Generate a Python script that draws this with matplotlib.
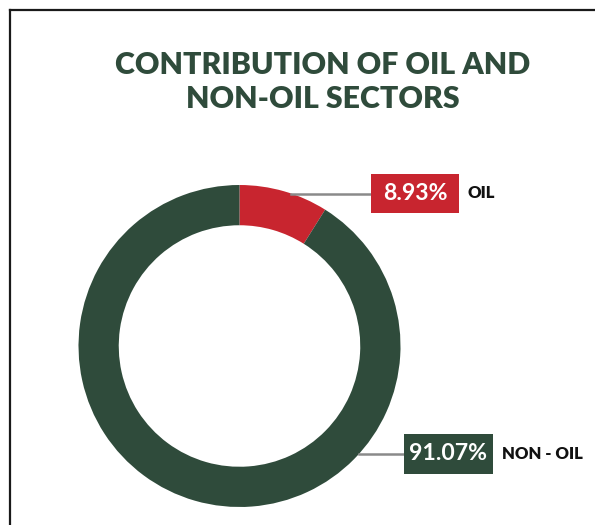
import numpy as np
import matplotlib.pyplot as plt
from matplotlib.patches import Rectangle
from matplotlib.lines import Line2D

# Sector shares (%)
sectors = ['OIL', 'NON - OIL']
shares = [8.93, 91.07]
colors = ['#c8252f', '#2f4b3b']
title = 'CONTRIBUTION OF OIL AND\nNON-OIL SECTORS'

W, H = 595, 525
fig = plt.figure(figsize=(W / 100, H / 100), dpi=100)
ax = fig.add_axes([0, 0, 1, 1])
ax.set_xlim(0, W)
ax.set_ylim(0, H)
ax.set_aspect('equal')
ax.axis('off')

# frame lines (top and left only)
fig.add_artist(Line2D([9.5 / W, 1], [1 - 9.5 / H, 1 - 9.5 / H], color='#1a1a1a', lw=1.6,
                      transform=fig.transFigure))
fig.add_artist(Line2D([9.5 / W, 9.5 / W], [0, 1 - 9.5 / H], color='#1a1a1a', lw=1.6,
                      transform=fig.transFigure))

fig.text(323 / W, 1 - 82 / H, title, ha='center', va='center', fontsize=21.8,
         family='Lato', fontweight='heavy', color='#2f4b3b', linespacing=1.3)

cx, cy, r = 239.5, H - 346, 161
ax.pie(shares, colors=colors, startangle=90, counterclock=False, center=(cx, cy),
       radius=r, wedgeprops=dict(width=r * 0.25, edgecolor='none'))
ax.set_xlim(0, W)
ax.set_ylim(0, H)

# label boxes: (box center x, box center y, width, height, name x)
boxes = [(415, H - 193.5, 88, 39, 467), (448.5, H - 454, 89, 40, 502)]
for name, val, col, (bx, by, bw, bh, nx) in zip(sectors, shares, colors, boxes):
    # leader runs horizontally from the ring's outer edge to the box
    lx = cx + np.sqrt(r ** 2 - (by - cy) ** 2)
    ax.plot([lx, bx - bw / 2], [by, by], color='#8a8a8a', lw=1.8, zorder=1)
    ax.add_patch(Rectangle((bx - bw / 2, by - bh / 2), bw, bh, facecolor=col,
                           edgecolor='none', zorder=3))
    ax.text(bx, by, f'{val:.2f}%', ha='center', va='center', color='white',
            fontsize=16.6, family='Lato', fontweight='bold', zorder=4)
    ax.text(nx, by, name, ha='left', va='center', color='#111111', fontsize=12,
            family='Lato', fontweight='heavy')

fig.savefig('out.png', dpi=100, facecolor='white')
